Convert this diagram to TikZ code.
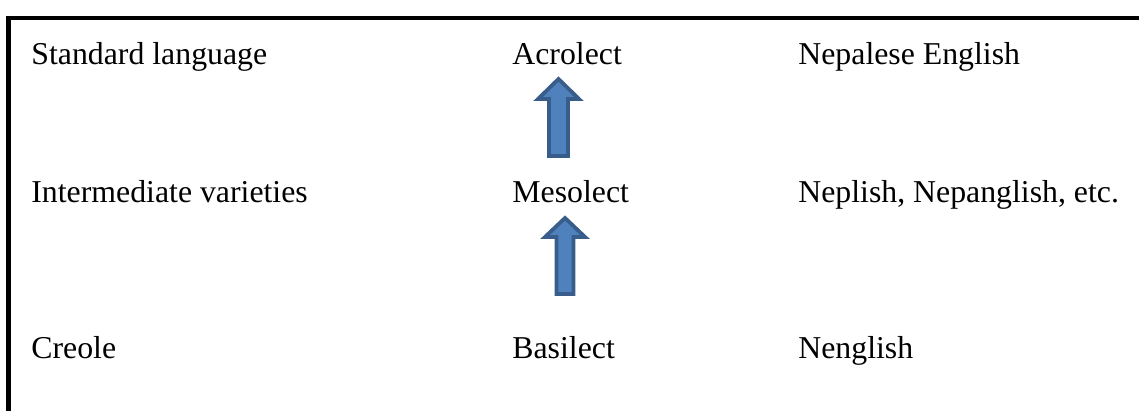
\documentclass[tikz,border=0pt]{standalone}
\usepackage{fontspec}
\setmainfont{Liberation Serif}
\begin{document}
\begin{tikzpicture}[x=0.5pt,y=-0.5pt,
  label/.style={anchor=base west,inner sep=0pt,font=\fontsize{15.9}{19}\selectfont},
  uparrow/.style={fill=arrowfill,draw=arrowline,line width=1.9pt,line join=miter}]
\definecolor{arrowfill}{HTML}{4F81BD}
\definecolor{arrowline}{HTML}{385D8A}
\useasboundingbox (0,0) rectangle (1139,411);
% frame: only its top and left edges fall inside the page
\draw[line width=2.2pt] (8.5,420) -- (8.5,18) -- (1150,18);
% first column
\node[label] (std) at (31,65) {Standard language};
\node[label] (int) at (31,203) {Intermediate varieties};
\node[label] (cre) at (31,358) {Creole};
% second column
\node[label] (acro) at (512,65) {Acrolect};
\node[label] (meso) at (512,203) {Mesolect};
\node[label] (basi) at (512,358) {Basilect};
% third column
\node[label] (nep) at (798,65) {Nepalese English};
\node[label] (nepl) at (798,203) {Neplish, Nepanglish, etc.};
\node[label] (neng) at (798,358) {Nenglish};
% block arrows
\draw[uparrow] (549,156) -- (549,99) -- (538,99) -- (558.5,79) -- (579,99) -- (568,99) -- (568,156) -- cycle;
\draw[uparrow] (556.5,294) -- (556.5,237) -- (545,237) -- (565,218) -- (585,237) -- (573.5,237) -- (573.5,294) -- cycle;
\end{tikzpicture}
\end{document}
